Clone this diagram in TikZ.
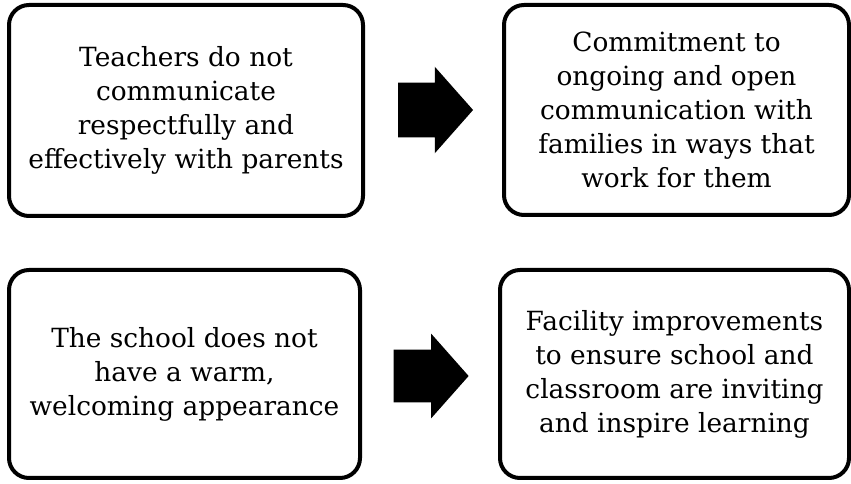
\documentclass[tikz,border=0pt]{standalone}
\usepackage{fontspec}
\setmainfont{DejaVu Serif}
\usepackage{tikz}
\usetikzlibrary{shapes,arrows,positioning}

\begin{document}
\begin{tikzpicture}[x=0.75pt, y=-0.75pt,
	issue/.style = {draw, line width = 3pt, rounded corners = 15pt,
		align = center, inner sep = 0pt,
		font = \fontsize{19.8}{25.5}\selectfont},
	fix/.style = {single arrow, fill = black, inner xsep = 0pt,
		inner ysep = 20.25pt, single arrow head extend = 12pt,
		single arrow tip angle = 97, minimum height = 56.25pt}]
\useasboundingbox (0,0) rectangle (851,484);
\node [issue, minimum width = 265.5pt, minimum height = 158.25pt]
	(problem1) at (186,110.5)
	{Teachers do not\\communicate\\respectfully and\\effectively with parents};
\node [issue, minimum width = 258.75pt, minimum height = 157.5pt]
	(action1) at (676.5,110)
	{Commitment to\\ongoing and open\\communication with\\families in ways that\\work for them};
\node [issue, minimum width = 263.25pt, minimum height = 156pt]
	(problem2) at (184.5,374)
	{The school does not\\have a warm,\\welcoming appearance};
\node [issue, minimum width = 261.75pt, minimum height = 156pt]
	(action2) at (674.5,374)
	{Facility improvements\\to ensure school and\\classroom are inviting\\and inspire learning};
\node [fix] (arrow1) at (423.5,110) {};
\node [fix, inner ysep = 19.5pt] (arrow2) at (419.5,376) {};
\end{tikzpicture}
\end{document}
